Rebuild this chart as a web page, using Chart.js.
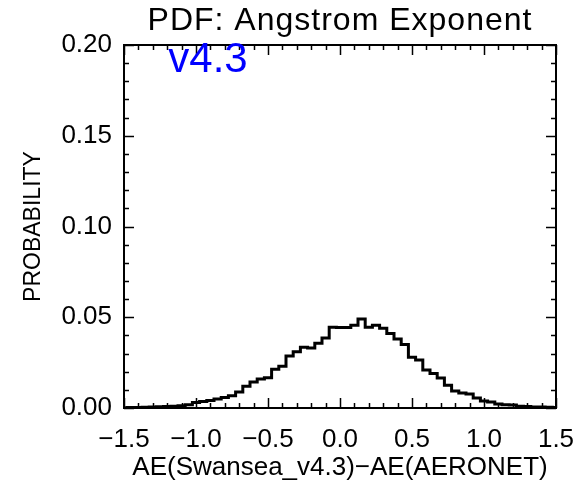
<!DOCTYPE html>
<html>
<head>
<meta charset="utf-8">
<script src="https://cdn.jsdelivr.net/npm/chart.js@4/dist/chart.umd.min.js"></script>
<style>
  html, body { margin: 0; padding: 0; background: #fff; }
  #wrap { width: 578px; height: 482px; }
</style>
</head>
<body>
<div id="wrap"><canvas id="pdf-chart" width="578" height="482"></canvas></div>
<script>
// bin centres of the AE difference histogram (width 0.05)
const aeBins = [
  -1.50, -1.45, -1.40, -1.35, -1.30, -1.25, -1.20, -1.15, -1.10, -1.05,
  -1.00, -0.95, -0.90, -0.85, -0.80, -0.75, -0.70, -0.65, -0.60, -0.55,
  -0.50, -0.45, -0.40, -0.35, -0.30, -0.25, -0.20, -0.15, -0.10, -0.05,
   0.00,  0.05,  0.10,  0.15,  0.20,  0.25,  0.30,  0.35,  0.40,  0.45,
   0.50,  0.55,  0.60,  0.65,  0.70,  0.75,  0.80,  0.85,  0.90,  0.95,
   1.00,  1.05,  1.10,  1.15,  1.20,  1.25,  1.30,  1.35,  1.40,  1.45,
   1.50
];
const probability = [
  0.0002, 0.0003, 0.0003, 0.0004, 0.0005, 0.0007, 0.0008, 0.0010, 0.0012, 0.0018,
  0.0030, 0.0036, 0.0042, 0.0050, 0.0058, 0.0068, 0.0088, 0.0120, 0.0143, 0.0160,
  0.0166, 0.0214, 0.0230, 0.0286, 0.0310, 0.0335, 0.0330, 0.0357, 0.0385, 0.0445,
  0.0443, 0.0443, 0.0456, 0.0490, 0.0445, 0.0456, 0.0440, 0.0410, 0.0380, 0.0350,
  0.0280, 0.0264, 0.0210, 0.0190, 0.0165, 0.0126, 0.0093, 0.0082, 0.0077, 0.0055,
  0.0038, 0.0033, 0.0022, 0.0018, 0.0016, 0.0010, 0.0008, 0.0006, 0.0005, 0.0004,
  0.0003
];
const xTickVals = [-1.5, -1.0, -0.5, 0.0, 0.5, 1.0, 1.5];
const yTickVals = [0.00, 0.05, 0.10, 0.15, 0.20];

const titleText = 'PDF: Angstrom Exponent';
const versionText = 'v4.3';
const xTitle = 'AE(Swansea_v4.3)\u2212AE(AERONET)';
const yTitle = 'PROBABILITY';

const FONT = '"Liberation Sans", Arial, sans-serif';

function fmtX(v) {
    const s = Math.abs(v).toFixed(1);
    return v < -1e-9 ? '\u2212' + s : s;
}

// IDL-style frame: box on all sides, ticks pointing inwards, plus labels
const idlFrame = {
    id: 'idlFrame',
    afterDatasetsDraw(chart) {
        const { ctx, chartArea: a, scales: { x, y } } = chart;
        ctx.save();
        ctx.strokeStyle = '#000';
        ctx.lineWidth = 2;
        ctx.strokeRect(a.left, a.top, a.right - a.left, a.bottom - a.top);

        ctx.lineWidth = 1.5;
        ctx.beginPath();
        for (let i = 0; i <= 30; i++) {
            const px = Math.round(x.getPixelForValue(-1.5 + i * 0.1)) + 0.5;
            const len = i % 5 === 0 ? 10 : 5;
            ctx.moveTo(px, a.bottom); ctx.lineTo(px, a.bottom - len);
            ctx.moveTo(px, a.top); ctx.lineTo(px, a.top + len);
        }
        for (let i = 0; i <= 20; i++) {
            const py = Math.round(y.getPixelForValue(i * 0.01)) + 0.5;
            const len = i % 5 === 0 ? 10 : 5;
            ctx.moveTo(a.left, py); ctx.lineTo(a.left + len, py);
            ctx.moveTo(a.right, py); ctx.lineTo(a.right - len, py);
        }
        ctx.stroke();

        const cx = (a.left + a.right) / 2;
        ctx.fillStyle = '#000';
        ctx.textAlign = 'center';
        ctx.textBaseline = 'alphabetic';
        ctx.font = '32px ' + FONT;
        ctx.letterSpacing = '1px';
        ctx.fillText(titleText, cx, 30);
        ctx.letterSpacing = '0px';

        ctx.font = '26px ' + FONT;
        ctx.fillText(xTitle, cx, 475);

        ctx.save();
        ctx.translate(40, (a.top + a.bottom) / 2);
        ctx.rotate(-Math.PI / 2);
        ctx.font = '23px ' + FONT;
        ctx.fillText(yTitle, 0, 0);
        ctx.restore();

        ctx.fillStyle = '#0000ff';
        ctx.font = '42px ' + FONT;
        ctx.fillText(versionText, 208, 72);
        ctx.restore();
    }
};

new Chart(document.getElementById('pdf-chart'), {
    type: 'line',
    data: {
        datasets: [{
            data: aeBins.map((b, i) => ({ x: b, y: probability[i] })),
            borderColor: '#000',
            borderWidth: 3,
            pointRadius: 0,
            stepped: 'middle',
            fill: false
        }]
    },
    options: {
        responsive: false,
        animation: false,
        layout: { padding: { top: 45, right: 22, left: 0, bottom: 0 } },
        plugins: { legend: { display: false }, tooltip: { enabled: false } },
        scales: {
            x: {
                type: 'linear',
                min: -1.5,
                max: 1.5,
                afterFit: s => { s.height = 74; s.paddingLeft = 0; s.paddingRight = 0; },
                afterBuildTicks: s => { s.ticks = xTickVals.map(v => ({ value: v })); },
                grid: { display: false, drawTicks: false },
                border: { display: false },
                ticks: {
                    padding: 16,
                    color: '#000',
                    font: { family: FONT, size: 26 },
                    maxRotation: 0,
                    callback: v => fmtX(v)
                }
            },
            y: {
                min: 0,
                max: 0.2,
                afterFit: s => { s.width = 124; s.paddingTop = 0; s.paddingBottom = 0; },
                afterBuildTicks: s => { s.ticks = yTickVals.map(v => ({ value: v })); },
                grid: { display: false, drawTicks: false },
                border: { display: false },
                ticks: {
                    padding: 12,
                    color: '#000',
                    font: { family: FONT, size: 26 },
                    callback: v => v.toFixed(2)
                }
            }
        }
    },
    plugins: [idlFrame]
});
</script>
</body>
</html>
